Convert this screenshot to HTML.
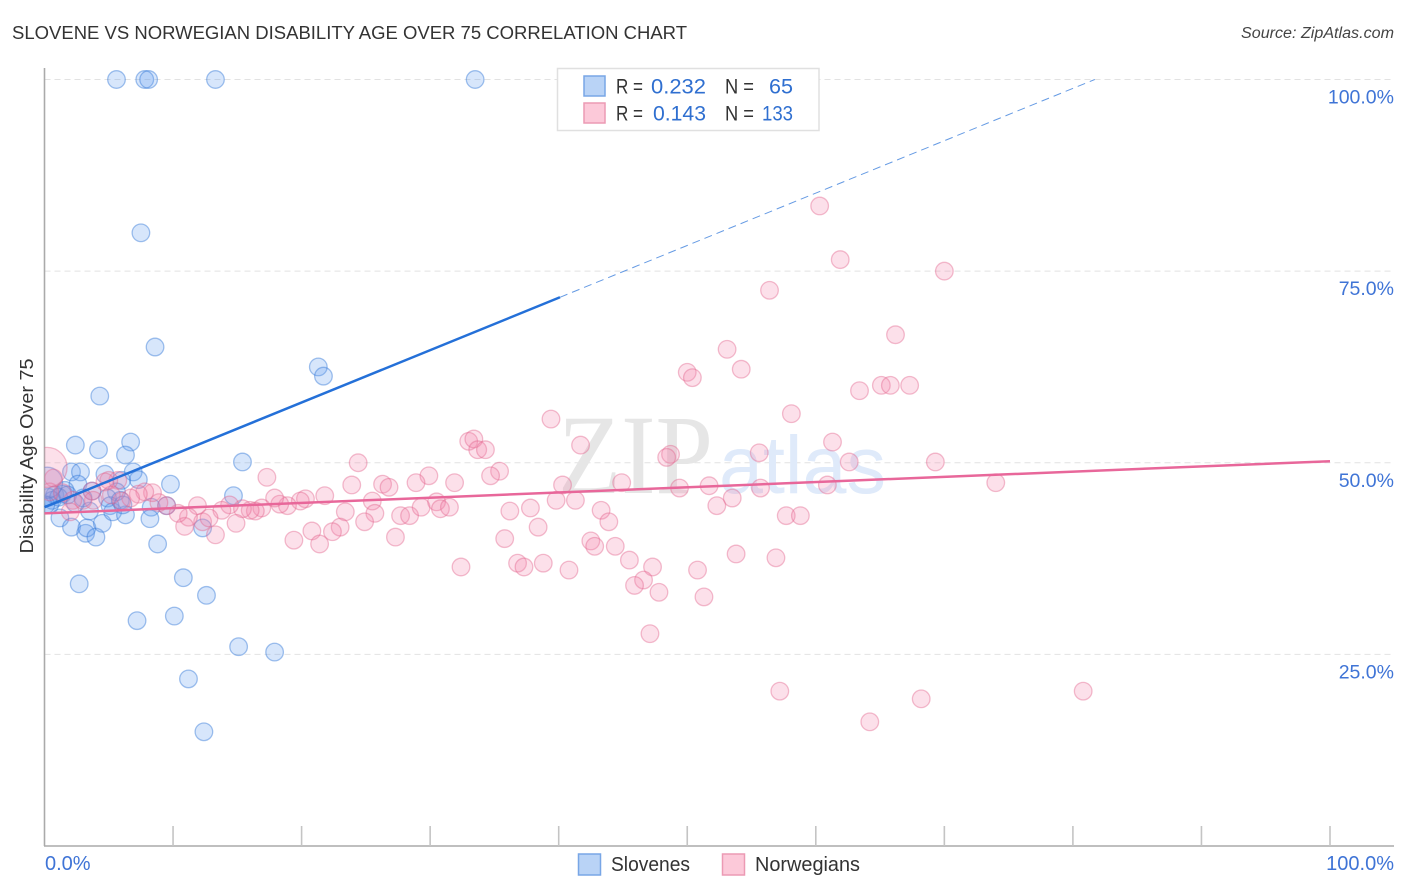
<!DOCTYPE html>
<html lang="en">
<head>
<meta charset="utf-8">
<title>Slovene vs Norwegian Disability Age Over 75 Correlation Chart</title>
<style>
  html,body{margin:0;padding:0;background:#fff;}
  body{width:1406px;height:892px;overflow:hidden;}
  svg{display:block;font-family:"Liberation Sans",sans-serif;}
</style>
</head>
<body>
<svg id="chart" width="1406" height="892" viewBox="0 0 1406 892" xmlns="http://www.w3.org/2000/svg">
  <defs>
    <clipPath id="plot-clip"><rect x="44.5" y="0" width="1362" height="846"/></clipPath>
  </defs>
  <rect x="0" y="0" width="1406" height="892" fill="#ffffff"/>
  <text x="12" y="39" font-size="18" fill="#333333" textLength="675" lengthAdjust="spacingAndGlyphs">SLOVENE VS NORWEGIAN DISABILITY AGE OVER 75 CORRELATION CHART</text>
  <text x="1241" y="38" font-size="15.5" font-style="italic" fill="#444444" textLength="153" lengthAdjust="spacingAndGlyphs">Source: ZipAtlas.com</text>
  <text transform="translate(33,456) rotate(-90)" font-size="18" fill="#333333" text-anchor="middle" textLength="195" lengthAdjust="spacingAndGlyphs">Disability Age Over 75</text>

  <g id="grid-layer"></g>
  <g>
    <text x="558" y="493" font-family="'Liberation Serif',serif" font-size="113" fill="#e6e6e6" textLength="155" lengthAdjust="spacingAndGlyphs">ZIP</text>
    <text x="719" y="493" font-size="82" fill="#dfeafa" textLength="167" lengthAdjust="spacingAndGlyphs">atlas</text>
  </g>
  <g id="axis-layer"></g>
  <g id="point-layer" clip-path="url(#plot-clip)"></g>
  <g id="trend-layer"></g>
  <g id="label-layer"></g>

  <g>
    <rect x="557.5" y="68.5" width="261.5" height="62" fill="#ffffff" stroke="#e0e0e0" stroke-width="1.5"/>
    <rect x="584" y="76" width="21" height="20" fill="#b9d3f6" stroke="#78a6e6" stroke-width="1.5"/>
    <rect x="584" y="103" width="21" height="20" fill="#fcc9d9" stroke="#ec9ab4" stroke-width="1.5"/>
    <g font-size="21" fill="#333333">
      <text x="616" y="93.5" textLength="27" lengthAdjust="spacingAndGlyphs">R =</text>
      <text x="725" y="93.5" textLength="29" lengthAdjust="spacingAndGlyphs">N =</text>
      <text x="616" y="120.5" textLength="27" lengthAdjust="spacingAndGlyphs">R =</text>
      <text x="725" y="120.5" textLength="29" lengthAdjust="spacingAndGlyphs">N =</text>
    </g>
    <g font-size="21" fill="#2f6fd0">
      <text x="651" y="93.5" textLength="55" lengthAdjust="spacingAndGlyphs">0.232</text>
      <text x="769" y="93.5" textLength="24" lengthAdjust="spacingAndGlyphs">65</text>
      <text x="653" y="120.5" textLength="53" lengthAdjust="spacingAndGlyphs">0.143</text>
      <text x="762" y="120.5" textLength="31" lengthAdjust="spacingAndGlyphs">133</text>
    </g>
  </g>

  <g>
    <rect x="578.5" y="854" width="22" height="21" fill="#b9d3f6" stroke="#78a6e6" stroke-width="1.5"/>
    <text x="611" y="871" font-size="20" fill="#333333" textLength="79" lengthAdjust="spacingAndGlyphs">Slovenes</text>
    <rect x="722.5" y="854" width="22" height="21" fill="#fcc9d9" stroke="#ec9ab4" stroke-width="1.5"/>
    <text x="755" y="871" font-size="20" fill="#333333" textLength="105" lengthAdjust="spacingAndGlyphs">Norwegians</text>
  </g>
</svg>

<script>
const sloveneX = [5.6,7.8,8.1,13.3,33.5,7.5,8.6,21.3,21.7,4.3,2.4,4.2,6.7,6.3,15.4,2.1,2.8,4.7,6.9,7.3,9.8,6.0,2.6,14.7,5.6,4.9,3.7,1.6,0.8,1.4,0.4,0.6,0.3,1.2,2.1,3.2,3.3,4.0,4.5,3.5,5.1,5.3,6.3,5.9,8.3,9.5,8.2,8.8,12.3,2.7,7.2,10.8,10.1,12.6,15.1,17.9,11.2,12.4,1.1,1.8,3.0,2.4,0.1,6.1,0.2];
const sloveneY = [100,100,100,100,100,80.0,65.1,62.5,61.3,58.7,52.3,51.7,52.7,51.0,50.1,48.8,48.8,48.5,48.8,47.8,47.2,47.7,47.2,45.7,46.2,45.4,46.3,46.4,45.8,45.9,44.5,45.1,45.5,42.8,41.6,40.8,41.5,40.3,42.1,43.7,44.4,43.6,43.2,45.1,44.2,44.4,42.7,39.4,41.5,34.2,29.4,35.0,30.0,32.7,26.0,25.3,21.8,14.9,45.5,45.8,45.4,44.7,44.5,44.5,47.4];
const norwegianX = [60.3,61.9,70.0,56.4,66.2,53.1,54.2,50.0,50.4,63.4,65.1,65.8,67.3,58.1,39.4,33.0,33.4,33.7,34.3,41.7,61.3,48.7,48.4,55.6,35.4,34.7,24.4,17.3,62.6,69.3,74.0,60.9,44.9,40.3,31.9,29.9,28.9,26.3,26.8,23.9,49.4,51.7,55.7,39.8,41.3,53.5,52.3,43.3,43.9,37.8,36.2,57.7,58.8,38.4,35.8,36.8,37.3,38.8,32.4,40.8,42.5,42.8,44.4,45.5,47.3,50.8,46.6,45.9,47.8,51.3,47.1,53.8,56.9,57.2,64.2,68.2,80.8,27.7,28.4,29.3,30.5,30.8,31.5,27.3,25.5,25.7,24.9,23.4,23.0,22.4,20.8,21.4,19.4,21.8,20.3,19.9,18.9,18.3,17.9,16.9,16.4,16.0,15.4,14.9,14.4,13.8,13.3,12.3,12.8,11.9,11.2,10.9,10.4,9.5,8.9,8.4,7.8,7.3,6.7,6.0,5.7,5.0,4.7,5.2,3.7,3.8,3.0,2.2,2.0,1.4,0.7,0.4,0.2];
const norwegianY = [83.5,76.5,75.0,72.5,66.7,64.8,62.2,61.8,61.1,59.4,60.1,60.1,60.1,56.4,55.7,52.8,53.1,51.7,51.7,52.3,52.7,51.1,50.7,51.3,48.9,48.3,50.0,48.1,50.1,50.1,47.4,47.1,47.4,47.1,47.4,48.3,47.4,47.2,46.8,47.1,46.7,47.0,46.7,45.1,45.1,45.4,44.4,43.8,42.3,44.1,43.7,43.1,43.1,41.6,40.1,36.9,36.4,36.9,36.4,36.0,39.8,39.1,39.1,37.3,36.4,36.0,34.7,34.0,33.1,32.5,27.7,38.1,37.6,20.2,16.2,19.2,20.2,43.1,43.1,44.2,44.9,44.0,44.2,40.3,45.0,43.4,42.3,43.6,41.6,41.0,41.1,39.4,39.9,45.7,45.3,45.0,44.4,44.6,45.4,44.1,43.7,43.8,44.0,42.1,44.5,43.8,40.6,42.3,42.8,44.4,42.9,41.7,43.4,44.4,44.8,46.1,46.2,45.9,45.4,45.0,47.7,47.7,47.5,45.8,46.3,45.1,45.1,45.1,43.6,46.1,48.0,46.2,49.4];

// Trend lines: [value at x=0, value at x=100]; the Slovene fit goes dashed past its solid end.
const sloveneTrend = [44.2, 112.5];
const sloveneSolidEnd = [40.1];
const norwegianTrend = [43.4, 50.2];

const yTickValues = [25, 50, 75, 100];
const yTickLabels = ["25.0%", "50.0%", "75.0%", "100.0%"];
const xTickValues = [10, 20, 30, 40, 50, 60, 70, 80, 90, 100];
const xEndValues = [0, 100];
const xEndLabels = ["0.0%", "100.0%"];

const SVG_NS = "http://www.w3.org/2000/svg";
const xScale = v => 44.5 + v * 12.855;
const yScale = v => 846 - v * 7.665;
const trendAt = (t, x) => t[0] + (t[1] - t[0]) * x / 100;

function make(tag, attrs, parent) {
  const el = document.createElementNS(SVG_NS, tag);
  for (const k in attrs) el.setAttribute(k, attrs[k]);
  parent.appendChild(el);
  return el;
}

const gridLayer = document.getElementById("grid-layer");
const axisLayer = document.getElementById("axis-layer");
const pointLayer = document.getElementById("point-layer");
const trendLayer = document.getElementById("trend-layer");
const labelLayer = document.getElementById("label-layer");

yTickValues.forEach((v, i) => {
  const g = make("line", {x1: 44.5, x2: 1394, y1: yScale(v), y2: yScale(v), stroke: "#e2e2e2", "stroke-width": 1, "stroke-dasharray": "6 4"}, gridLayer);
  
  
  const t = make("text", {x: 1394, y: yScale(v) + 24, "font-size": 19.5, fill: "#3f74d6", "text-anchor": "end"}, labelLayer);
  t.textContent = yTickLabels[i];
  
  
});

const yAxis = make("line", {x1: 44.5, x2: 44.5, y1: 68, y2: 846, stroke: "#aaaaaa", "stroke-width": 1.6}, axisLayer);


const xAxis = make("line", {x1: 44, x2: 1394, y1: 846, y2: 846, stroke: "#aaaaaa", "stroke-width": 1.6}, axisLayer);



xTickValues.forEach(v => {
  const tick = make("line", {x1: xScale(v), x2: xScale(v), y1: 826, y2: 846, stroke: "#c4c4c4", "stroke-width": 1.6}, axisLayer);
  
  
});

xEndValues.forEach((v, i) => {
  const t = make("text", {x: i === 0 ? xScale(v) + 0.5 : 1394, y: 870, "font-size": 20, fill: "#3f74d6", "text-anchor": i === 0 ? "start" : "end"}, labelLayer);
  t.textContent = xEndLabels[i];
  
  
});

function drawSeries(xs, ys, fill, stroke, bigRadius, name) {
  xs.forEach((x, i) => {
    const r = i === xs.length - 1 ? bigRadius : 8.8;
    const c = make("circle", {cx: xScale(x), cy: yScale(ys[i]), r: r, fill: fill, stroke: stroke, "stroke-width": 1.3}, pointLayer);
    
    
  });
}
drawSeries(sloveneX, sloveneY, "rgba(100,158,238,0.26)", "rgba(50,120,215,0.45)", 15.5, "slovene-point");
drawSeries(norwegianX, norwegianY, "rgba(242,130,170,0.25)", "rgba(226,100,140,0.42)", 20, "norwegian-point");

const solidEnd = sloveneSolidEnd[0];
const blueSolid = make("line", {x1: xScale(0), y1: yScale(trendAt(sloveneTrend, 0)), x2: xScale(solidEnd), y2: yScale(trendAt(sloveneTrend, solidEnd)), stroke: "#2470d8", "stroke-width": 2.5}, trendLayer);


const dashEnd = (100 - sloveneTrend[0]) * 100 / (sloveneTrend[1] - sloveneTrend[0]);
const blueDash = make("line", {x1: xScale(solidEnd), y1: yScale(trendAt(sloveneTrend, solidEnd)), x2: xScale(dashEnd), y2: yScale(100), stroke: "#2470d8", "stroke-width": 1, "stroke-dasharray": "8 5", opacity: 0.7}, trendLayer);


const pinkLine = make("line", {x1: xScale(0), y1: yScale(norwegianTrend[0]), x2: xScale(100), y2: yScale(norwegianTrend[1]), stroke: "#e8679a", "stroke-width": 2.5}, trendLayer);


</script>
</body>
</html>
